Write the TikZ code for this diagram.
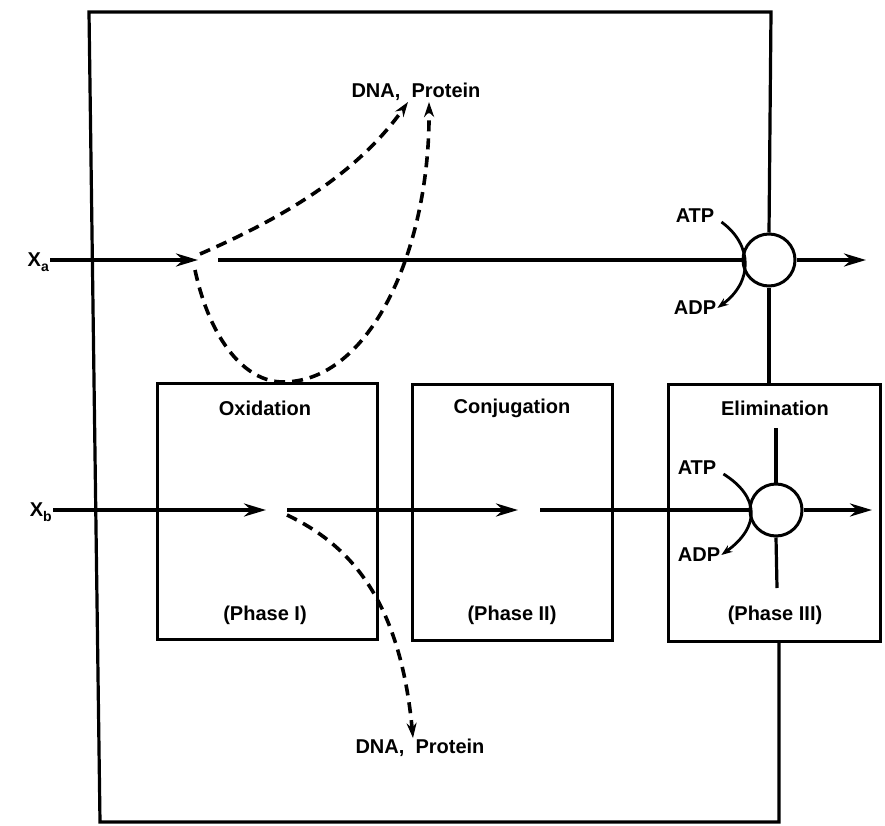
\documentclass[tikz,border=0pt]{standalone}
\usepackage{fontspec}
\setmainfont{Liberation Sans}
\usetikzlibrary{arrows.meta}
\tikzset{
  lbl/.style={font=\fontsize{20}{24}\selectfont\bfseries, inner sep=1pt},
  frame/.style={line width=3.2pt},
  flow/.style={line width=4.4pt},
  flowarrow/.style={flow, -{Stealth[length=22pt,width=13pt]}},
  dasharrow/.style={line width=3.6pt, dash pattern=on 11pt off 7pt, -{Stealth[length=15pt,width=10pt]}},
  atparc/.style={line width=2.8pt, -{Stealth[length=11pt,width=8pt]}},
  pump/.style={circle, draw, line width=3pt, minimum size=52pt, inner sep=0pt},
  phasebox/.style={draw, line width=3pt, rectangle, inner sep=0pt}
}
\begin{document}
\begin{tikzpicture}[x=1pt,y=-1pt]
\useasboundingbox (0,0) rectangle (885,826);
% boxes
\node[phasebox, minimum width=220pt, minimum height=256pt] (ox) at (267,511) {};
\node[phasebox, minimum width=200pt, minimum height=256pt] (co) at (512,512) {};
\node[phasebox, minimum width=212pt, minimum height=257pt] (el) at (774,513) {};
\node[lbl] at (265,408) {Oxidation};
\node[lbl] at (512,408) {Conjugation};
\node[lbl] at (775,408) {Elimination};
\node[lbl] at (265,615) {(Phase I)};
\node[lbl] at (512,615) {(Phase II)};
\node[lbl] at (775,615) {(Phase III)};
% pumps
\node[pump] (pa) at (769,260) {};
\node[pump] (pb) at (776,510) {};
% frame corners
\coordinate (tl) at (89,12);
\coordinate (tr) at (771,12);
\coordinate (bl) at (100,822);
\coordinate (br) at (779,822);
\coordinate (elin) at (776,428);
\coordinate (elout) at (777,588);
\draw[frame] (pa.north) -- (tr) -- (tl) -- (bl) -- (br) -- (el.south -| br);
\draw[frame] (pa.south) -- (el.north -| pa.south);
\draw[frame] (elin) -- (pb.north);
\draw[frame] (pb.south) -- (elout);
% inputs
\node[lbl, anchor=east] (xa) at (50,262) {X\raisebox{-0.45ex}{\fontsize{14}{15}\selectfont a}};
\node[lbl, anchor=east] (xb) at (53,512) {X\raisebox{-0.45ex}{\fontsize{14}{15}\selectfont b}};
\coordinate (a1) at (198,260);
\coordinate (a2) at (218,260);
\coordinate (aout) at (866,260);
\coordinate (b1) at (266,510);
\coordinate (b2) at (287,510);
\coordinate (b3) at (518,510);
\coordinate (b4) at (540,510);
\coordinate (bout) at (872,510);
\draw[flowarrow] (xa.east |- a1) -- (a1);
\draw[flow] (a2) -- (pa.west);
\draw[flowarrow] (pa.east) -- (aout);
\draw[flowarrow] (xb.east |- b1) -- (b1);
\draw[flowarrow] (b2) -- (b3);
\draw[flow] (b4) -- (pb.west);
\draw[flowarrow] (pb.east) -- (bout);
% DNA, Protein
\node[lbl] (dnat) at (416,92) {DNA,\ \ Protein};
\node[lbl] (dnab) at (420,748) {DNA,\ \ Protein};
\coordinate (ta1) at (200,254);
\coordinate (ta2) at (195,270);
\coordinate (tb1) at (287,515);
\draw[dasharrow] (ta1) .. controls (290,215) and (360,170) .. (dnat.south -| 408,0);
\draw[dasharrow] (ta2) .. controls (210,340) and (245,382) .. (283,382)
   .. controls (370,382) and (430,250) .. (dnat.south -| 429,0);
\draw[dasharrow] (tb1) .. controls (350,545) and (400,600) .. (dnab.north -| 413,0);
% ATP / ADP
\node[lbl] (atpa) at (695,216) {ATP};
\node[lbl] (adpa) at (695,308) {ADP};
\node[lbl] (atpb) at (697,468) {ATP};
\node[lbl] (adpb) at (699,555) {ADP};
\draw[atparc] (atpa.east |- 0,222) ++(6,0) .. controls (753,245) and (753,282) .. (adpa.east);
\draw[atparc] (atpb.east |- 0,474) ++(6,0) .. controls (760,497) and (760,527) .. (adpb.east);
\end{tikzpicture}
\end{document}
